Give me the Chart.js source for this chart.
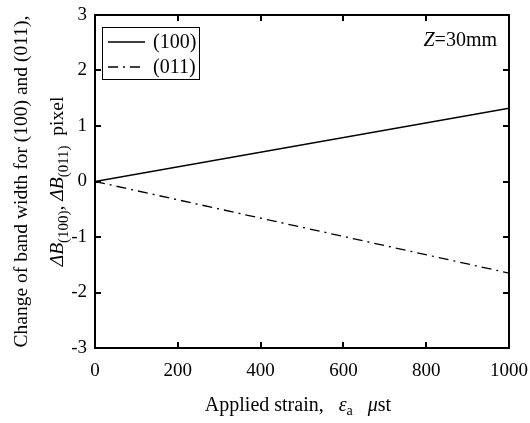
<!DOCTYPE html>
<html>
<head>
<meta charset="utf-8">
<script src="https://cdn.jsdelivr.net/npm/chart.js@4"></script>
<style>
  html, body { margin: 0; padding: 0; background: #fff; }
</style>
</head>
<body>
<canvas id="chart" width="530" height="423"></canvas>
<script>
// data
const strain = [0, 1000];
const band100 = [0, 1.32];
const band011 = [0, -1.65];
const seriesLabels = ["(100)", "(011)"];
const xTicks = [0, 200, 400, 600, 800, 1000];
const yTicks = [-3, -2, -1, 0, 1, 2, 3];

const FONT = "Liberation Serif";

// draws frame, inward ticks, legend, note and the rich axis titles
const decorations = {
    id: "decorations",
    afterDraw(chart) {
        const ctx = chart.ctx;
        const a = chart.chartArea;
        const xs = chart.scales.x, ys = chart.scales.y;
        ctx.save();
        ctx.strokeStyle = "#000";

        // inward ticks
        ctx.lineWidth = 2;
        ctx.beginPath();
        xTicks.forEach(v => {
            const px = Math.round(xs.getPixelForValue(v));
            ctx.moveTo(px, a.bottom); ctx.lineTo(px, a.bottom - 6);
            ctx.moveTo(px, a.top); ctx.lineTo(px, a.top + 6);
        });
        yTicks.forEach(v => {
            const py = Math.round(ys.getPixelForValue(v));
            ctx.moveTo(a.left, py); ctx.lineTo(a.left + 6, py);
            ctx.moveTo(a.right, py); ctx.lineTo(a.right - 6, py);
        });
        ctx.stroke();

        // frame
        ctx.lineWidth = 2;
        ctx.strokeRect(a.left, a.top, a.right - a.left, a.bottom - a.top);

        // legend
        const lx = a.left + 7, ly = a.top + 12;
        ctx.lineWidth = 1;
        ctx.strokeRect(lx + 0.5, ly + 0.5, 97, 52);
        ctx.fillStyle = "#000";
        ctx.font = "20px " + FONT;
        ctx.textBaseline = "middle";
        chart.data.datasets.forEach((ds, i) => {
            const yy = ly + 15 + i * 25;
            ctx.save();
            ctx.lineWidth = 1.3;
            ctx.setLineDash(ds.borderDash || []);
            ctx.beginPath();
            ctx.moveTo(lx + 6, yy); ctx.lineTo(lx + 43, yy);
            ctx.stroke();
            ctx.restore();
            ctx.fillText(ds.label, lx + 51, yy + 1);
        });

        // note
        ctx.textBaseline = "alphabetic";
        ctx.font = "italic 20px " + FONT;
        const zw = ctx.measureText("Z").width;
        ctx.font = "20px " + FONT;
        const rw = ctx.measureText("=30mm").width;
        const nx = a.right - 12 - zw - rw;
        ctx.fillText("=30mm", nx + zw, a.top + 31);
        ctx.font = "italic 20px " + FONT;
        ctx.fillText("Z", nx, a.top + 31);

        // x title
        drawRich(ctx, [
            ["Applied strain,   ", "", 0],
            ["\u03b5", "italic ", 0],
            ["a", "", 4, 14],
            ["   ", "", 0],
            ["\u03bc", "italic ", 0],
            ["st", "", 0]
        ], 298, 411);

        // y title (rotated)
        ctx.save();
        ctx.translate(27, (a.top + a.bottom) / 2);
        ctx.rotate(-Math.PI / 2);
        drawRich(ctx, [["Change of band width for (100) and (011),", "", 0]], 0, 0, 19.5);
        drawRich(ctx, [
            ["\u0394B", "italic ", 0],
            ["(100)", "", 5, 15],
            [", ", "", 0],
            ["\u0394B", "italic ", 0],
            ["(011)", "", 5, 15],
            ["  pixel", "", 0]
        ], 0, 36, 19.5);
        ctx.restore();

        ctx.restore();
    }
};

// pieces: [text, style, baseline shift, size]
function drawRich(ctx, pieces, cx, y, base) {
    base = base || 20;
    let total = 0;
    pieces.forEach(p => {
        ctx.font = p[1] + (p[3] || base) + "px " + FONT;
        total += ctx.measureText(p[0]).width;
    });
    let x = cx - total / 2;
    ctx.textAlign = "left";
    ctx.textBaseline = "alphabetic";
    ctx.fillStyle = "#000";
    pieces.forEach(p => {
        ctx.font = p[1] + (p[3] || base) + "px " + FONT;
        ctx.fillText(p[0], x, y + p[2]);
        x += ctx.measureText(p[0]).width;
    });
}

new Chart(document.getElementById("chart"), {
    type: "scatter",
    data: {
        datasets: [{
            label: seriesLabels[0],
            data: strain.map((s, i) => ({ x: s, y: band100[i] })),
            showLine: true,
            borderColor: "#000",
            borderWidth: 1.3,
            pointRadius: 0
        }, {
            label: seriesLabels[1],
            data: strain.map((s, i) => ({ x: s, y: band011[i] })),
            showLine: true,
            borderColor: "#000",
            borderWidth: 1.3,
            borderDash: [10, 5, 2, 5],
            pointRadius: 0
        }]
    },
    options: {
        responsive: false,
        animation: false,
        layout: { padding: { top: 15, right: 21, left: 0, bottom: 0 } },
        plugins: { legend: { display: false }, tooltip: { enabled: false } },
        scales: {
            x: {
                type: "linear",
                min: 0, max: 1000,
                afterBuildTicks: s => { s.ticks = xTicks.map(v => ({ value: v })); },
                afterFit: s => { s.height = 75; s.paddingRight = 0; s.paddingLeft = 0; },
                grid: { display: false, drawTicks: false },
                border: { display: false },
                ticks: { color: "#000", padding: 12, maxRotation: 0, callback: v => String(v), font: { family: FONT, size: 19 } }
            },
            y: {
                min: -3, max: 3,
                afterBuildTicks: s => { s.ticks = yTicks.map(v => ({ value: v })); },
                afterFit: s => { s.width = 95; s.paddingTop = 0; s.paddingBottom = 0; },
                grid: { display: false, drawTicks: false },
                border: { display: false },
                ticks: { color: "#000", padding: 8, callback: v => String(v), font: { family: FONT, size: 19 } }
            }
        }
    },
    plugins: [decorations]
});
</script>
</body>
</html>
